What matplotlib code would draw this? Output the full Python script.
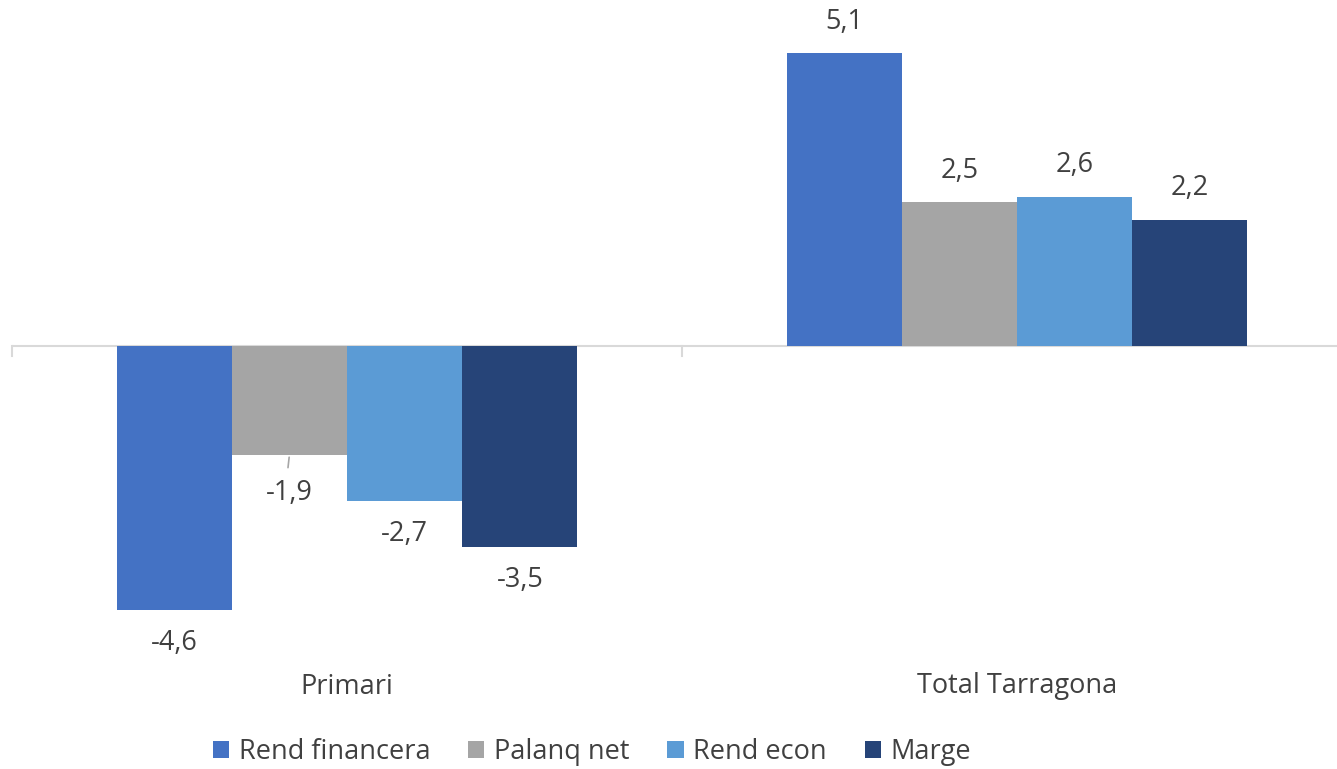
import matplotlib
matplotlib.use("Agg")
import matplotlib.pyplot as plt
import numpy as np

categories = ["Primari", "Total Tarragona"]
series_names = ["Rend financera", "Palanq net", "Rend econ", "Marge"]
rend_financera = [-4.6, 5.1]
palanq_net = [-1.9, 2.5]
rend_econ = [-2.7, 2.6]
marge = [-3.5, 2.2]
series_values = [rend_financera, palanq_net, rend_econ, marge]
colors = ["#4472C4", "#A5A5A5", "#5B9BD5", "#264478"]

txt = "#404040"
font = ["Open Sans", "DejaVu Sans"]
plt.rcParams["font.family"] = font
fs = 19.5

fig = plt.figure(figsize=(13.37, 7.69), dpi=100)
ax = fig.add_axes([12/1337, 1 - 660/769, 1340/1337, (660 - 10)/769])

x = np.arange(len(categories))
w = 0.172
for i, (name, vals, c) in enumerate(zip(series_names, series_values, colors)):
    pos = x + (i - 1.5) * w
    ax.bar(pos, vals, width=w, color=c, label=name, zorder=2)
    for px, v in zip(pos, vals):
        lab = f"{v:.1f}".replace(".", ",")
        if v >= 0:
            ax.annotate(lab, (px, v), xytext=(0, 22.5), textcoords="offset points",
                        ha="center", va="center", fontsize=fs, color=txt)
        else:
            off = -23.5
            if name == "Palanq net":
                off = -27.5
                ax.annotate("", xy=(px, v), xytext=(-1.0, -9),
                            textcoords="offset points",
                            arrowprops=dict(arrowstyle="-", color="#A6A6A6", lw=1.2,
                                            shrinkA=0, shrinkB=1.5))
            ax.annotate(lab, (px, v), xytext=(0, off), textcoords="offset points",
                        ha="center", va="center", fontsize=fs, color=txt)

ax.set_xlim(-0.5, 1.5)
ax.set_ylim(-5.466, 5.849)
ax.axhline(0, color="#D9D9D9", lw=1.5, zorder=1)
for b in [-0.5, 0.5, 1.5]:
    ax.plot([b, b], [0, -0.17], color="#D9D9D9", lw=1.5, zorder=1, clip_on=False)

for s in ax.spines.values():
    s.set_visible(False)
ax.set_yticks([])
ax.set_xticks(x)
ax.set_xticklabels(categories, fontsize=fs, color=txt)
ax.tick_params(axis="x", length=0, pad=9)

fig.legend(loc="center", bbox_to_anchor=(592/1337, 1 - 752/769), ncol=4, frameon=False,
           fontsize=fs, handlelength=0.6, handleheight=0.6, handletextpad=0.35,
           columnspacing=1.4, labelcolor=txt)

fig.savefig("out.png", dpi=100)
